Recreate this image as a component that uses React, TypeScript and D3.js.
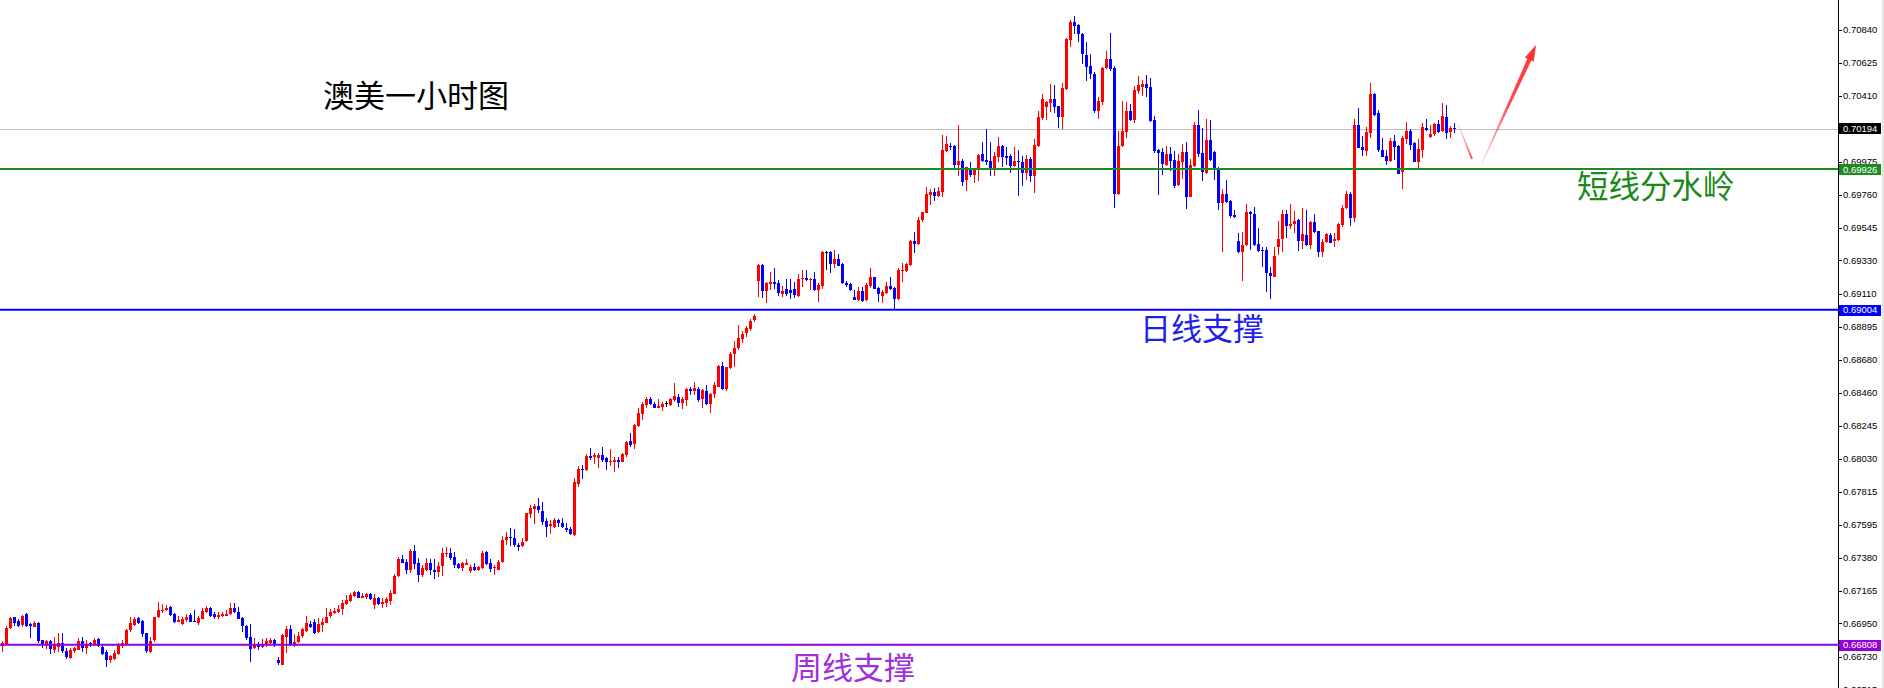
import React from 'react';
import * as d3 from 'd3';

// ---- OHLC data (AUDUSD, 1 hour) ----
const OPEN = [
0.66798,0.66816,0.66918,0.66990,0.66968,0.66938,0.67012,0.66944,0.66930,0.66955,0.66842,0.66802,0.66837,0.66776,0.66798,0.66820,0.66770,0.66722,0.66765,0.66781,
0.66835,0.66787,0.66820,0.66813,0.66846,0.66798,0.66765,0.66711,0.66722,0.66750,0.66798,0.66816,0.66903,0.66940,0.66984,0.66968,0.66885,0.66765,0.66837,0.66990,
0.67034,0.67034,0.67056,0.67012,0.66962,0.66944,0.66973,0.67006,0.66966,0.66958,0.66984,0.67023,0.67049,0.67012,0.66995,0.67001,0.67001,0.67012,0.67049,0.67028,
0.66984,0.66934,0.66864,0.66787,0.66809,0.66796,0.66809,0.66824,0.66842,0.66709,0.66678,0.66864,0.66914,0.66809,0.66831,0.66864,0.66901,0.66947,0.66962,0.66890,
0.66940,0.66955,0.66995,0.67017,0.67027,0.67043,0.67078,0.67100,0.67130,0.67156,0.67119,0.67121,0.67143,0.67071,0.67115,0.67078,0.67087,0.67097,0.67143,0.67261,
0.67373,0.67355,0.67301,0.67425,0.67344,0.67268,0.67305,0.67344,0.67301,0.67290,0.67323,0.67410,0.67410,0.67384,0.67340,0.67312,0.67333,0.67290,0.67318,0.67301,
0.67318,0.67420,0.67344,0.67312,0.67305,0.67355,0.67493,0.67515,0.67508,0.67465,0.67458,0.67486,0.67666,0.67701,0.67720,0.67690,0.67624,0.67585,0.67585,0.67628,
0.67611,0.67578,0.67567,0.67530,0.67864,0.67963,0.67956,0.68050,0.68044,0.68037,0.68054,0.68033,0.68006,0.68011,0.68022,0.68011,0.68054,0.68146,0.68127,0.68245,
0.68323,0.68382,0.68422,0.68389,0.68365,0.68371,0.68393,0.68382,0.68415,0.68437,0.68398,0.68415,0.68487,0.68476,0.68487,0.68419,0.68474,0.68387,0.68452,0.68502,
0.68638,0.68485,0.68622,0.68714,0.68754,0.68819,0.68850,0.68885,0.68939,0.69195,0.69300,0.69132,0.69178,0.69188,0.69184,0.69110,0.69140,0.69136,0.69140,0.69097,
0.69208,0.69213,0.69202,0.69208,0.69136,0.69162,0.69385,0.69385,0.69306,0.69339,0.69306,0.69184,0.69175,0.69092,0.69070,0.69129,0.69070,0.69158,0.69219,0.69147,
0.69097,0.69119,0.69162,0.69147,0.69075,0.69260,0.69260,0.69300,0.69457,0.69435,0.69591,0.69643,0.69759,0.69778,0.69752,0.69781,0.70049,0.70080,0.70080,0.69955,
0.69982,0.69853,0.69923,0.69890,0.69923,0.70028,0.69988,0.69982,0.69934,0.70010,0.70080,0.70014,0.70014,0.69951,0.69982,0.69975,0.69905,0.69995,0.69886,0.70082,
0.70261,0.70338,0.70364,0.70388,0.70342,0.70272,0.70451,0.70775,0.70893,0.70873,0.70814,0.70676,0.70604,0.70552,0.70309,0.70371,0.70587,0.70648,0.70591,0.69765,
0.70080,0.70174,0.70309,0.70250,0.70443,0.70464,0.70486,0.70464,0.70250,0.70054,0.70041,0.69955,0.70028,0.69988,0.69824,0.69977,0.70041,0.69748,0.69951,0.70218,
0.70032,0.69901,0.70119,0.70043,0.69923,0.69709,0.69765,0.69719,0.69628,0.69457,0.69387,0.69426,0.69645,0.69634,0.69437,0.69398,0.69398,0.69245,0.69223,0.69420,
0.69468,0.69634,0.69558,0.69569,0.69595,0.69459,0.69499,0.69431,0.69582,0.69521,0.69383,0.69448,0.69499,0.69459,0.69464,0.69562,0.69671,0.69765,0.69606,0.70217,
0.70071,0.70049,0.70167,0.70421,0.70294,0.70054,0.70014,0.69982,0.70113,0.70080,0.69905,0.70126,0.70178,0.70102,0.69977,0.70058,0.70196,0.70141,0.70156,0.70224,
0.70178,0.70272,0.70167,0.70198
];
const HIGH = [
0.66835,0.66934,0.66995,0.66995,0.66982,0.67006,0.67019,0.66951,0.66968,0.66960,0.66842,0.66842,0.66842,0.66859,0.66888,0.66885,0.66787,0.66787,0.66798,0.66853,
0.66864,0.66842,0.66831,0.66853,0.66853,0.66809,0.66776,0.66743,0.66776,0.66820,0.66842,0.66912,0.66990,0.66995,0.66990,0.66973,0.66890,0.66864,0.66995,0.67089,
0.67078,0.67071,0.67065,0.67017,0.66999,0.66990,0.67010,0.67017,0.67038,0.66999,0.67049,0.67065,0.67056,0.67028,0.67028,0.67028,0.67038,0.67087,0.67082,0.67060,
0.66995,0.66940,0.66945,0.66853,0.66826,0.66848,0.66853,0.66857,0.66848,0.66732,0.66879,0.66936,0.66940,0.66879,0.66896,0.66923,0.66999,0.66966,0.66979,0.66988,
0.66984,0.67049,0.67045,0.67054,0.67071,0.67104,0.67137,0.67148,0.67161,0.67161,0.67148,0.67148,0.67152,0.67141,0.67126,0.67115,0.67121,0.67170,0.67272,0.67388,
0.67397,0.67371,0.67438,0.67465,0.67377,0.67333,0.67377,0.67371,0.67371,0.67355,0.67443,0.67449,0.67443,0.67420,0.67349,0.67355,0.67371,0.67333,0.67344,0.67327,
0.67427,0.67427,0.67371,0.67333,0.67366,0.67523,0.67552,0.67574,0.67567,0.67480,0.67508,0.67677,0.67727,0.67731,0.67770,0.67749,0.67639,0.67628,0.67639,0.67633,
0.67639,0.67607,0.67585,0.67906,0.67982,0.67989,0.68061,0.68098,0.68065,0.68065,0.68109,0.68044,0.68094,0.68044,0.68044,0.68070,0.68146,0.68196,0.68255,0.68360,
0.68404,0.68432,0.68432,0.68400,0.68419,0.68404,0.68408,0.68430,0.68524,0.68452,0.68437,0.68491,0.68502,0.68531,0.68502,0.68487,0.68513,0.68459,0.68535,0.68644,
0.68666,0.68633,0.68732,0.68802,0.68907,0.68870,0.68900,0.68944,0.68979,0.69306,0.69306,0.69191,0.69256,0.69278,0.69202,0.69162,0.69206,0.69206,0.69191,0.69241,
0.69267,0.69267,0.69213,0.69256,0.69180,0.69394,0.69392,0.69394,0.69398,0.69372,0.69311,0.69197,0.69184,0.69136,0.69158,0.69158,0.69184,0.69278,0.69223,0.69158,
0.69136,0.69191,0.69219,0.69158,0.69278,0.69311,0.69315,0.69464,0.69514,0.69617,0.69649,0.69809,0.69798,0.69802,0.69813,0.70152,0.70146,0.70102,0.70086,0.70218,
0.69993,0.69944,0.69973,0.69934,0.70028,0.70108,0.70189,0.70104,0.70038,0.70141,0.70084,0.70076,0.70028,0.70076,0.70054,0.70014,0.70021,0.70010,0.70126,0.70309,
0.70421,0.70377,0.70486,0.70480,0.70342,0.70495,0.70786,0.70906,0.70932,0.70880,0.70819,0.70759,0.70683,0.70567,0.70403,0.70600,0.70703,0.70823,0.70604,0.70178,
0.70375,0.70371,0.70355,0.70475,0.70539,0.70513,0.70545,0.70523,0.70276,0.70060,0.70065,0.70080,0.70076,0.70047,0.70028,0.70093,0.70106,0.69993,0.70237,0.70316,
0.70196,0.70259,0.70250,0.70049,0.69940,0.69798,0.69857,0.69726,0.69660,0.69512,0.69516,0.69700,0.69656,0.69682,0.69542,0.69420,0.69416,0.69289,0.69420,0.69590,
0.69660,0.69660,0.69698,0.69654,0.69599,0.69676,0.69660,0.69590,0.69634,0.69525,0.69468,0.69507,0.69507,0.69512,0.69573,0.69693,0.69787,0.69780,0.70257,0.70331,
0.70148,0.70202,0.70491,0.70430,0.70316,0.70130,0.70054,0.70130,0.70152,0.70084,0.70145,0.70237,0.70189,0.70108,0.70124,0.70228,0.70255,0.70217,0.70228,0.70250,
0.70359,0.70349,0.70211,0.70228
];
const LOW = [
0.66765,0.66813,0.66912,0.66936,0.66929,0.66929,0.66925,0.66853,0.66925,0.66820,0.66787,0.66781,0.66750,0.66754,0.66765,0.66754,0.66715,0.66717,0.66754,0.66776,
0.66765,0.66750,0.66798,0.66802,0.66794,0.66743,0.66663,0.66689,0.66711,0.66743,0.66792,0.66809,0.66896,0.66936,0.66944,0.66864,0.66754,0.66754,0.66831,0.66984,
0.67021,0.67030,0.67001,0.66951,0.66958,0.66940,0.66962,0.66962,0.66962,0.66940,0.66979,0.67017,0.66995,0.66977,0.66977,0.66995,0.66999,0.67006,0.67017,0.66977,
0.66896,0.66842,0.66700,0.66783,0.66776,0.66787,0.66798,0.66813,0.66798,0.66678,0.66678,0.66754,0.66805,0.66798,0.66820,0.66857,0.66892,0.66918,0.66879,0.66885,
0.66896,0.66951,0.66984,0.67010,0.67017,0.67006,0.67071,0.67093,0.67126,0.67115,0.67115,0.67111,0.67104,0.67043,0.67071,0.67054,0.67060,0.67071,0.67143,0.67257,
0.67344,0.67274,0.67283,0.67305,0.67224,0.67253,0.67296,0.67268,0.67242,0.67257,0.67261,0.67384,0.67366,0.67312,0.67305,0.67296,0.67331,0.67283,0.67296,0.67294,
0.67305,0.67333,0.67290,0.67268,0.67301,0.67349,0.67465,0.67458,0.67454,0.67427,0.67454,0.67482,0.67639,0.67602,0.67672,0.67596,0.67519,0.67534,0.67578,0.67580,
0.67578,0.67552,0.67530,0.67526,0.67847,0.67897,0.67952,0.68022,0.67995,0.67971,0.68011,0.67956,0.67982,0.67945,0.67971,0.68006,0.68044,0.68109,0.68094,0.68236,
0.68284,0.68360,0.68382,0.68360,0.68360,0.68345,0.68371,0.68378,0.68404,0.68371,0.68354,0.68378,0.68448,0.68448,0.68404,0.68365,0.68382,0.68332,0.68430,0.68498,
0.68481,0.68476,0.68618,0.68633,0.68743,0.68790,0.68830,0.68870,0.68925,0.69092,0.69081,0.69049,0.69136,0.69143,0.69099,0.69088,0.69097,0.69075,0.69081,0.69092,
0.69158,0.69197,0.69136,0.69129,0.69060,0.69140,0.69267,0.69245,0.69278,0.69293,0.69173,0.69158,0.69132,0.69070,0.69066,0.69060,0.69066,0.69147,0.69140,0.69060,
0.69049,0.69110,0.69136,0.69009,0.69070,0.69191,0.69256,0.69296,0.69381,0.69431,0.69584,0.69639,0.69693,0.69719,0.69748,0.69748,0.70043,0.70054,0.69938,0.69883,
0.69818,0.69787,0.69879,0.69840,0.69853,0.69975,0.69955,0.69883,0.69883,0.69977,0.69944,0.69955,0.69905,0.69944,0.69754,0.69820,0.69857,0.69846,0.69774,0.70076,
0.70250,0.70250,0.70305,0.70299,0.70200,0.70191,0.70447,0.70731,0.70814,0.70764,0.70617,0.70508,0.70517,0.70299,0.70257,0.70349,0.70583,0.70572,0.69676,0.69759,
0.70076,0.70135,0.70246,0.70229,0.70421,0.70408,0.70403,0.70235,0.70036,0.69759,0.69890,0.69951,0.69918,0.69807,0.69820,0.69862,0.69667,0.69743,0.69944,0.70010,
0.69853,0.69896,0.69984,0.69857,0.69660,0.69387,0.69709,0.69606,0.69606,0.69381,0.69197,0.69424,0.69398,0.69424,0.69387,0.69289,0.69125,0.69075,0.69219,0.69365,
0.69387,0.69475,0.69534,0.69507,0.69392,0.69402,0.69427,0.69405,0.69512,0.69354,0.69350,0.69442,0.69442,0.69420,0.69459,0.69551,0.69667,0.69558,0.69584,0.70065,
0.70014,0.70017,0.70135,0.70279,0.70043,0.70006,0.69955,0.69977,0.69988,0.69894,0.69796,0.70093,0.70054,0.69973,0.69933,0.69999,0.70178,0.70130,0.70145,0.70163,
0.70174,0.70126,0.70130,0.70163
];
const CLOSE = [
0.66820,0.66918,0.66986,0.66951,0.66938,0.66999,0.66936,0.66934,0.66955,0.66837,0.66816,0.66837,0.66787,0.66813,0.66824,0.66770,0.66733,0.66776,0.66787,0.66837,
0.66787,0.66813,0.66816,0.66842,0.66798,0.66754,0.66711,0.66737,0.66759,0.66809,0.66820,0.66907,0.66951,0.66979,0.66951,0.66881,0.66765,0.66837,0.66990,0.67038,
0.67038,0.67049,0.67006,0.66958,0.66973,0.66979,0.66995,0.66962,0.66962,0.66988,0.67034,0.67049,0.66999,0.66990,0.67006,0.67012,0.67012,0.67049,0.67021,0.66984,
0.66929,0.66853,0.66787,0.66813,0.66798,0.66813,0.66835,0.66842,0.66809,0.66689,0.66875,0.66914,0.66809,0.66831,0.66870,0.66912,0.66951,0.66929,0.66890,0.66945,
0.66962,0.66995,0.67023,0.67032,0.67045,0.67082,0.67104,0.67137,0.67154,0.67119,0.67132,0.67141,0.67111,0.67115,0.67078,0.67093,0.67111,0.67148,0.67261,0.67373,
0.67349,0.67301,0.67425,0.67340,0.67268,0.67312,0.67349,0.67296,0.67288,0.67327,0.67410,0.67414,0.67377,0.67333,0.67312,0.67344,0.67349,0.67318,0.67301,0.67323,
0.67415,0.67340,0.67305,0.67318,0.67355,0.67497,0.67515,0.67513,0.67460,0.67454,0.67486,0.67672,0.67705,0.67722,0.67694,0.67617,0.67585,0.67600,0.67628,0.67607,
0.67585,0.67563,0.67534,0.67878,0.67963,0.67956,0.68050,0.68039,0.68054,0.68054,0.68022,0.68004,0.68015,0.68022,0.68011,0.68061,0.68138,0.68120,0.68251,0.68328,
0.68389,0.68419,0.68389,0.68365,0.68376,0.68389,0.68393,0.68419,0.68441,0.68398,0.68422,0.68487,0.68476,0.68496,0.68415,0.68481,0.68389,0.68452,0.68513,0.68638,
0.68487,0.68629,0.68716,0.68754,0.68819,0.68850,0.68885,0.68935,0.68965,0.69300,0.69132,0.69184,0.69188,0.69175,0.69119,0.69129,0.69110,0.69119,0.69103,0.69208,
0.69215,0.69202,0.69208,0.69136,0.69169,0.69387,0.69385,0.69306,0.69339,0.69296,0.69180,0.69169,0.69136,0.69075,0.69129,0.69066,0.69169,0.69219,0.69143,0.69108,
0.69121,0.69162,0.69143,0.69077,0.69267,0.69267,0.69306,0.69457,0.69438,0.69595,0.69645,0.69765,0.69781,0.69752,0.69785,0.70054,0.70093,0.70071,0.69955,0.69984,
0.69846,0.69940,0.69890,0.69927,0.70021,0.69982,0.69973,0.69934,0.70014,0.70080,0.70010,0.69999,0.69951,0.69982,0.69975,0.69905,0.69995,0.69886,0.70087,0.70272,
0.70388,0.70371,0.70388,0.70338,0.70272,0.70462,0.70781,0.70893,0.70869,0.70812,0.70681,0.70600,0.70550,0.70309,0.70375,0.70591,0.70648,0.70585,0.69765,0.70080,
0.70178,0.70309,0.70250,0.70447,0.70480,0.70486,0.70462,0.70239,0.70047,0.70036,0.69962,0.70028,0.69984,0.69818,0.69982,0.70041,0.69748,0.69955,0.70218,0.70028,
0.69905,0.70119,0.69988,0.69923,0.69709,0.69765,0.69715,0.69621,0.69617,0.69387,0.69431,0.69645,0.69634,0.69431,0.69394,0.69394,0.69245,0.69223,0.69361,0.69470,
0.69634,0.69558,0.69569,0.69590,0.69459,0.69503,0.69433,0.69582,0.69516,0.69381,0.69451,0.69501,0.69446,0.69470,0.69569,0.69676,0.69765,0.69606,0.70217,0.70069,
0.70049,0.70172,0.70421,0.70283,0.70049,0.70010,0.69984,0.70113,0.70075,0.69896,0.70130,0.70178,0.70086,0.69977,0.70060,0.70207,0.70180,0.70159,0.70224,0.70174,
0.70277,0.70167,0.70196,0.70194
];

// right axis tick labels
const TICKS = [0.70840,0.70625,0.70410,0.69975,0.69760,0.69545,0.69330,0.69110,0.68895,0.68680,0.68460,0.68245,0.68030,0.67815,0.67595,0.67380,0.67165,0.66950,0.66730,0.66515];

// horizontal levels
const LEVEL_VALUES = [0.69926, 0.69004, 0.66808];
const LEVEL_NAMES = ['短线分水岭', '日线支撑', '周线支撑'];
const LEVEL_COLORS = ['#1f8a1f', '#0000ff', '#9400d3'];
const TEXT_COLORS = ['#1a8a1a', '#1f1ff0', '#a030d8'];
const LAST_PRICE = 0.70194;
const TITLE = '澳美一小时图';

// forecast arrows (candle index, price)
const ARROW_DOWN = [[364, 0.70224], [367.5, 0.69995]];
const ARROW_UP = [[369.75, 0.69955], [383.5, 0.70742]];

const W = 1884;
const H = 688;
const AXIS_X = 1838;

export default function App() {
  const y = d3.scaleLinear().domain([0.71037, 0.66527]).range([0, H]);
  const x = d3.scaleLinear().domain([0, 363]).range([2, 1454]);
  const fmt = d3.format('.5f');
  const CJK = '"Noto Sans CJK SC", "Noto Sans", sans-serif';
  const AX = '"Liberation Sans", Arial, sans-serif';

  const candles = OPEN.map((o, i) => {
    const c = CLOSE[i];
    const cx = Math.round(x(i));
    const yo = y(o), yc = y(c), yh = y(HIGH[i]), yl = y(LOW[i]);
    const col = c > o ? '#ff0000' : c < o ? '#0000ff' : '#000000';
    const top = Math.round(Math.min(yo, yc));
    const bh = Math.max(1, Math.round(Math.abs(yo - yc)));
    const wt = Math.round(yh);
    const wb = Math.round(yl);
    return (
      <g key={i} fill={col}>
        <rect x={cx} y={wt} width={1} height={Math.max(1, wb - wt)} />
        <rect x={cx - 1} y={top} width={3} height={bh} />
      </g>
    );
  });

  const taper = (pts: number[][], w0: number, w1: number, head: boolean) => {
    const x0 = x(pts[0][0]), y0 = y(pts[0][1]);
    const x1 = x(pts[1][0]), y1 = y(pts[1][1]);
    const dx = x1 - x0, dy = y1 - y0;
    const len = Math.hypot(dx, dy);
    const ux = dx / len, uy = dy / len;
    const nx = -uy, ny = ux;
    if (!head) {
      return [
        [x0 + nx * w0, y0 + ny * w0], [x1 + nx * w1, y1 + ny * w1],
        [x1 - nx * w1, y1 - ny * w1], [x0 - nx * w0, y0 - ny * w0],
      ];
    }
    const hl = 16, hw = 5;
    const bx = x1 - ux * hl, by = y1 - uy * hl;
    return [
      [x0 + nx * w0, y0 + ny * w0], [bx + nx * w1, by + ny * w1], [bx + nx * hw, by + ny * hw],
      [x1, y1],
      [bx - nx * hw, by - ny * hw], [bx - nx * w1, by - ny * w1], [x0 - nx * w0, y0 - ny * w0],
    ];
  };
  const poly = (p: number[][]) => p.map((q) => q.join(',')).join(' ');

  const boxH = 11;
  const priceBox = (v: number, bg: string, key: string) => (
    <g key={key}>
      <rect x={AXIS_X + 1} y={Math.round(y(v) - boxH / 2)} width={42} height={boxH} fill={bg} />
      <text x={AXIS_X + 5} y={y(v)} dy="0.35em" fill="#ffffff" fontFamily={AX} fontSize={9.5}>{fmt(v)}</text>
    </g>
  );

  return (
    <svg width={W} height={H} style={{ position: 'absolute', left: 0, top: 0, display: 'block', background: '#ffffff' }}>
      <defs>
        <linearGradient id="gDown" gradientUnits="userSpaceOnUse"
          x1={x(ARROW_DOWN[0][0])} y1={y(ARROW_DOWN[0][1])} x2={x(ARROW_DOWN[1][0])} y2={y(ARROW_DOWN[1][1])}>
          <stop offset="0" stopColor="#ff3a3a" stopOpacity={0.15} />
          <stop offset="1" stopColor="#ff3a3a" stopOpacity={0.9} />
        </linearGradient>
        <linearGradient id="gUp" gradientUnits="userSpaceOnUse"
          x1={x(ARROW_UP[0][0])} y1={y(ARROW_UP[0][1])} x2={x(ARROW_UP[1][0])} y2={y(ARROW_UP[1][1])}>
          <stop offset="0" stopColor="#ff3030" stopOpacity={0.15} />
          <stop offset="0.5" stopColor="#ff3030" stopOpacity={0.85} />
          <stop offset="1" stopColor="#ff3030" stopOpacity={1} />
        </linearGradient>
      </defs>
      <rect x={0} y={0} width={W} height={H} fill="#ffffff" />

      {/* last price line */}
      <line x1={0} x2={AXIS_X} y1={Math.round(y(LAST_PRICE)) + 0.5} y2={Math.round(y(LAST_PRICE)) + 0.5} stroke="#c0c0c0" strokeWidth={1} />

      {/* candles */}
      <g shapeRendering="crispEdges">{candles}</g>

      {/* levels */}
      {LEVEL_VALUES.map((v, i) => (
        <line key={'lv' + i} x1={0} x2={AXIS_X} y1={y(v) - 0.5} y2={y(v) - 0.5} stroke={LEVEL_COLORS[i]} strokeWidth={2} />
      ))}

      {/* arrows */}
      <polygon points={poly(taper(ARROW_DOWN, 0.4, 1.0, false))} fill="url(#gDown)" />
      <polygon points={poly(taper(ARROW_UP, 0.4, 2.2, true))} fill="url(#gUp)" />

      {/* texts */}
      <text x={323} y={107} fontFamily={CJK} fontSize={31} fill="#000000">{TITLE}</text>
      <text x={1577} y={198} fontFamily={CJK} fontSize={31.5} fill={TEXT_COLORS[0]}>{LEVEL_NAMES[0]}</text>
      <text x={1140} y={340} fontFamily={CJK} fontSize={31} fill={TEXT_COLORS[1]}>{LEVEL_NAMES[1]}</text>
      <text x={791} y={679} fontFamily={CJK} fontSize={31} fill={TEXT_COLORS[2]}>{LEVEL_NAMES[2]}</text>

      {/* right axis */}
      <rect x={AXIS_X} y={0} width={1} height={H} fill="#000000" shapeRendering="crispEdges" />
      <rect x={W - 2} y={0} width={2} height={H} fill="#e4e4e4" />
      {TICKS.map((t, i) => (
        <g key={'t' + i}>
          <rect x={AXIS_X + 1} y={Math.round(y(t))} width={3} height={1} fill="#000000" shapeRendering="crispEdges" />
          <text x={AXIS_X + 5} y={y(t)} dy="0.35em" fontFamily={AX} fontSize={9.5} fill="#000000">{fmt(t)}</text>
        </g>
      ))}
      {priceBox(LAST_PRICE, '#000000', 'pb0')}
      {LEVEL_VALUES.map((v, i) => priceBox(v, LEVEL_COLORS[i], 'pl' + i))}
    </svg>
  );
}
